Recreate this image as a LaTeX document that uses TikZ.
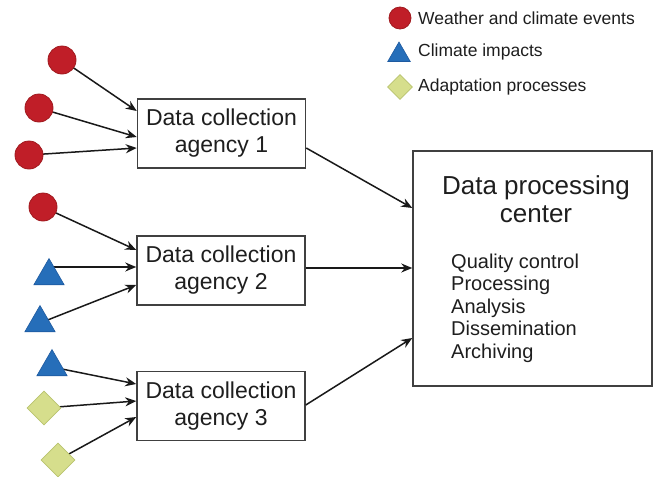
\documentclass[tikz,border=0pt]{standalone}
\usepackage{fontspec}
\setmainfont{Liberation Sans}
\usetikzlibrary{arrows.meta,shapes.geometric,backgrounds}
\definecolor{evred}{RGB}{192,30,40}
\definecolor{evredd}{RGB}{160,25,30}
\definecolor{impblue}{RGB}{38,110,185}
\definecolor{impblued}{RGB}{30,90,160}
\definecolor{adgreen}{RGB}{214,222,140}
\definecolor{adgreend}{RGB}{185,195,110}
\definecolor{txt}{RGB}{30,30,30}
\begin{document}
\begin{tikzpicture}[x=1pt,y=-1pt,
  event/.style={circle,fill=evred,draw=evredd,line width=0.8pt,minimum size=28pt,inner sep=0pt},
  impact/.style={regular polygon,regular polygon sides=3,fill=impblue,draw=impblued,line width=0.6pt,minimum size=35pt,inner sep=0pt},
  adapt/.style={diamond,fill=adgreen,draw=adgreend,line width=0.8pt,minimum size=34pt,inner sep=0pt},
  agency/.style={draw=black!75,line width=1.5pt,minimum width=168pt,minimum height=69pt,inner sep=0pt,align=center,text=txt,font=\fontsize{23}{27}\selectfont},
  arr/.style={-{Stealth[length=11pt,width=9pt]},line width=1.5pt,black!90},
  legtext/.style={anchor=west,text=txt,font=\fontsize{17.5}{20}\selectfont,inner sep=0pt}
]
\useasboundingbox (0,0) rectangle (654,477);
% boxes
\node[agency] (b1) at (221.5,133.5) {Data collection\\agency 1};
\node[agency] (b2) at (221,270.5) {Data collection\\agency 2};
\node[agency] (b3) at (221,406) {Data collection\\agency 3};
\node[draw=black!75,line width=1.5pt,minimum width=239pt,minimum height=235pt,inner sep=0pt] (big) at (532.5,268.5) {};
\node[align=center,text=txt,font=\fontsize{26}{28}\selectfont,inner sep=0pt] (title) at (536,199) {Data processing\\center};
\node[align=left,anchor=west,text=txt,font=\fontsize{20}{22.5}\selectfont,inner sep=0pt] (list) at (451,308) {Quality control\\Processing\\Analysis\\Dissemination\\Archiving};
% sources
\node[event] (c1) at (62,60) {};
\node[event] (c2) at (39,108) {};
\node[event] (c3) at (29,155) {};
\node[event] (c4) at (43,207) {};
\node[impact] (t1) at (49,276) {};
\node[impact] (t2) at (40,323) {};
\node[impact] (t3) at (52,367) {};
\node[adapt] (d1) at (44,408) {};
\node[adapt] (d2) at (58,460) {};
% arrows into agencies (behind the symbols)
\begin{scope}[on background layer]
\draw[arr] (c1.center) -- (b1.west |- 0,111);
\draw[arr] (c2.center) -- (b1.west |- 0,137);
\draw[arr] (c3.center) -- (b1.west |- 0,148);
\draw[arr] (c4.center) -- (b2.west |- 0,250);
\draw[arr] (t1.center |- 0,267) -- (b2.west |- 0,267);
\draw[arr] (t2.center) -- (b2.west |- 0,285);
\draw[arr] (t3.center) -- (b3.west |- 0,384);
\draw[arr] (d1.center) -- (b3.west |- 0,401);
\draw[arr] (d2.center) -- (b3.west |- 0,417);
\end{scope}
% arrows into center
\draw[arr] (b1.east |- 0,148) -- (big.west |- 0,208);
\draw[arr] (b2.east |- 0,268) -- (big.west |- 0,268);
\draw[arr] (b3.east |- 0,405) -- (big.west |- 0,338);
% legend
\node[event,minimum size=22pt] (lc) at (400,18) {};
\node[impact,minimum size=26pt] (lt) at (399,55) {};
\node[adapt,minimum size=25pt] (ld) at (400,87) {};
\node[legtext] (l1) at (418,18) {Weather and climate events};
\node[legtext] (l2) at (418,52) {Climate impacts};
\node[legtext] (l3) at (418,87) {Adaptation processes};
\end{tikzpicture}
\end{document}
